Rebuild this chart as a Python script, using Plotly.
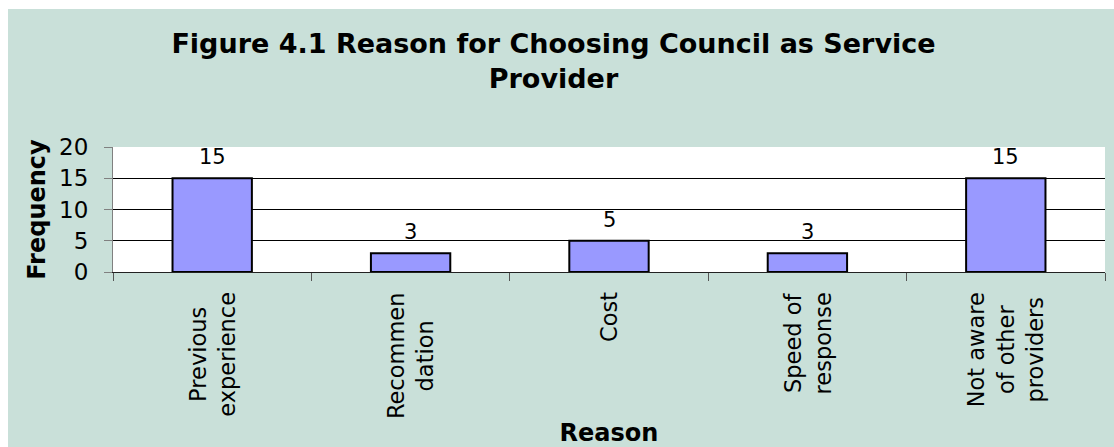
import plotly.graph_objects as go

# Survey responses: why respondents chose the council as their provider
reasons = [
    "Previous<br>experience",
    "Recommen<br>dation",
    "Cost",
    "Speed of<br>response",
    "Not aware<br>of other<br>providers",
]
frequency = [15, 3, 5, 3, 15]
y_ticks = [0, 5, 10, 15, 20]
grid_values = [5, 10, 15]

W, H = 1114, 447
M_L, M_R, M_T, M_B = 113, 9, 147, 175
plot_w = W - M_L - M_R
plot_h = H - M_T - M_B

BG = "#C9E0D9"
FONT = "DejaVu Sans, Verdana, sans-serif"

fig = go.Figure()

fig.add_trace(go.Bar(
    x=reasons,
    y=frequency,
    width=0.4,
    marker=dict(color="#9999FF", line=dict(color="black", width=2)),
    hoverinfo="x+y",
))

# value labels above each bar
for cat, val in zip(reasons, frequency):
    fig.add_annotation(
        x=cat, y=val, xref="x", yref="y",
        text=str(val), showarrow=False,
        yanchor="middle", yshift=21,
        font=dict(family=FONT, size=21, color="black"),
    )

# category labels, rotated and centred line by line
for cat in reasons:
    fig.add_annotation(
        x=cat, y=0, xref="x", yref="paper",
        text=cat, showarrow=False, textangle=-90,
        align="center", xanchor="center", yanchor="top", yshift=-18,
        font=dict(family=FONT, size=22.5, color="black"),
    )

# chart area background (leaves a thin white border at top/left)
fig.add_shape(
    type="rect", xref="paper", yref="paper", layer="below",
    x0=(8 - M_L) / plot_w, x1=(W - M_L) / plot_w,
    y0=(M_T + plot_h - H) / plot_h, y1=(M_T + plot_h - 9) / plot_h,
    fillcolor=BG, line=dict(width=0),
)
# white plot area
fig.add_shape(
    type="rect", xref="paper", yref="paper", layer="below",
    x0=0, x1=1, y0=0, y1=1,
    fillcolor="white", line=dict(width=0),
)

fig.update_layout(
    width=W, height=H,
    margin=dict(l=M_L, r=M_R, t=M_T, b=M_B),
    paper_bgcolor="white",
    plot_bgcolor="white",
    showlegend=False,
    font=dict(family=FONT, color="black"),
    title=dict(
        text="<b>Figure 4.1 Reason for Choosing Council as Service<br>Provider</b>",
        x=553.5 / W, xref="container", xanchor="center",
        y=1 - 53 / H, yref="container", yanchor="middle",
        font=dict(family=FONT, size=27, color="black"),
    ),
    xaxis=dict(
        type="category",
        range=[-0.5, 4.5],
        showticklabels=False,
        showgrid=False,
        showline=True, linecolor="#222222", linewidth=1,
        ticks="outside", tickson="boundaries", ticklen=8,
        tickcolor="#555555", tickwidth=1,
        title=dict(text="<b>Reason</b>", standoff=152,
                   font=dict(family=FONT, size=24, color="black")),
        automargin=False,
        fixedrange=True,
    ),
    yaxis=dict(
        range=[0, 20],
        tickvals=y_ticks,
        showgrid=False,
        minor=dict(tickvals=grid_values, showgrid=True,
                   gridcolor="black", gridwidth=1, ticks=""),
        zeroline=False,
        showline=True, linecolor="#808080", linewidth=1,
        ticks="outside", ticklen=8, tickcolor="#808080",
        ticklabelstandoff=11,
        tickfont=dict(family=FONT, size=23, color="black"),
        title=dict(text="<b>Frequency</b>", standoff=6,
                   font=dict(family=FONT, size=24, color="black")),
        automargin=False,
        fixedrange=True,
    ),
)

fig.write_html("out.html")
